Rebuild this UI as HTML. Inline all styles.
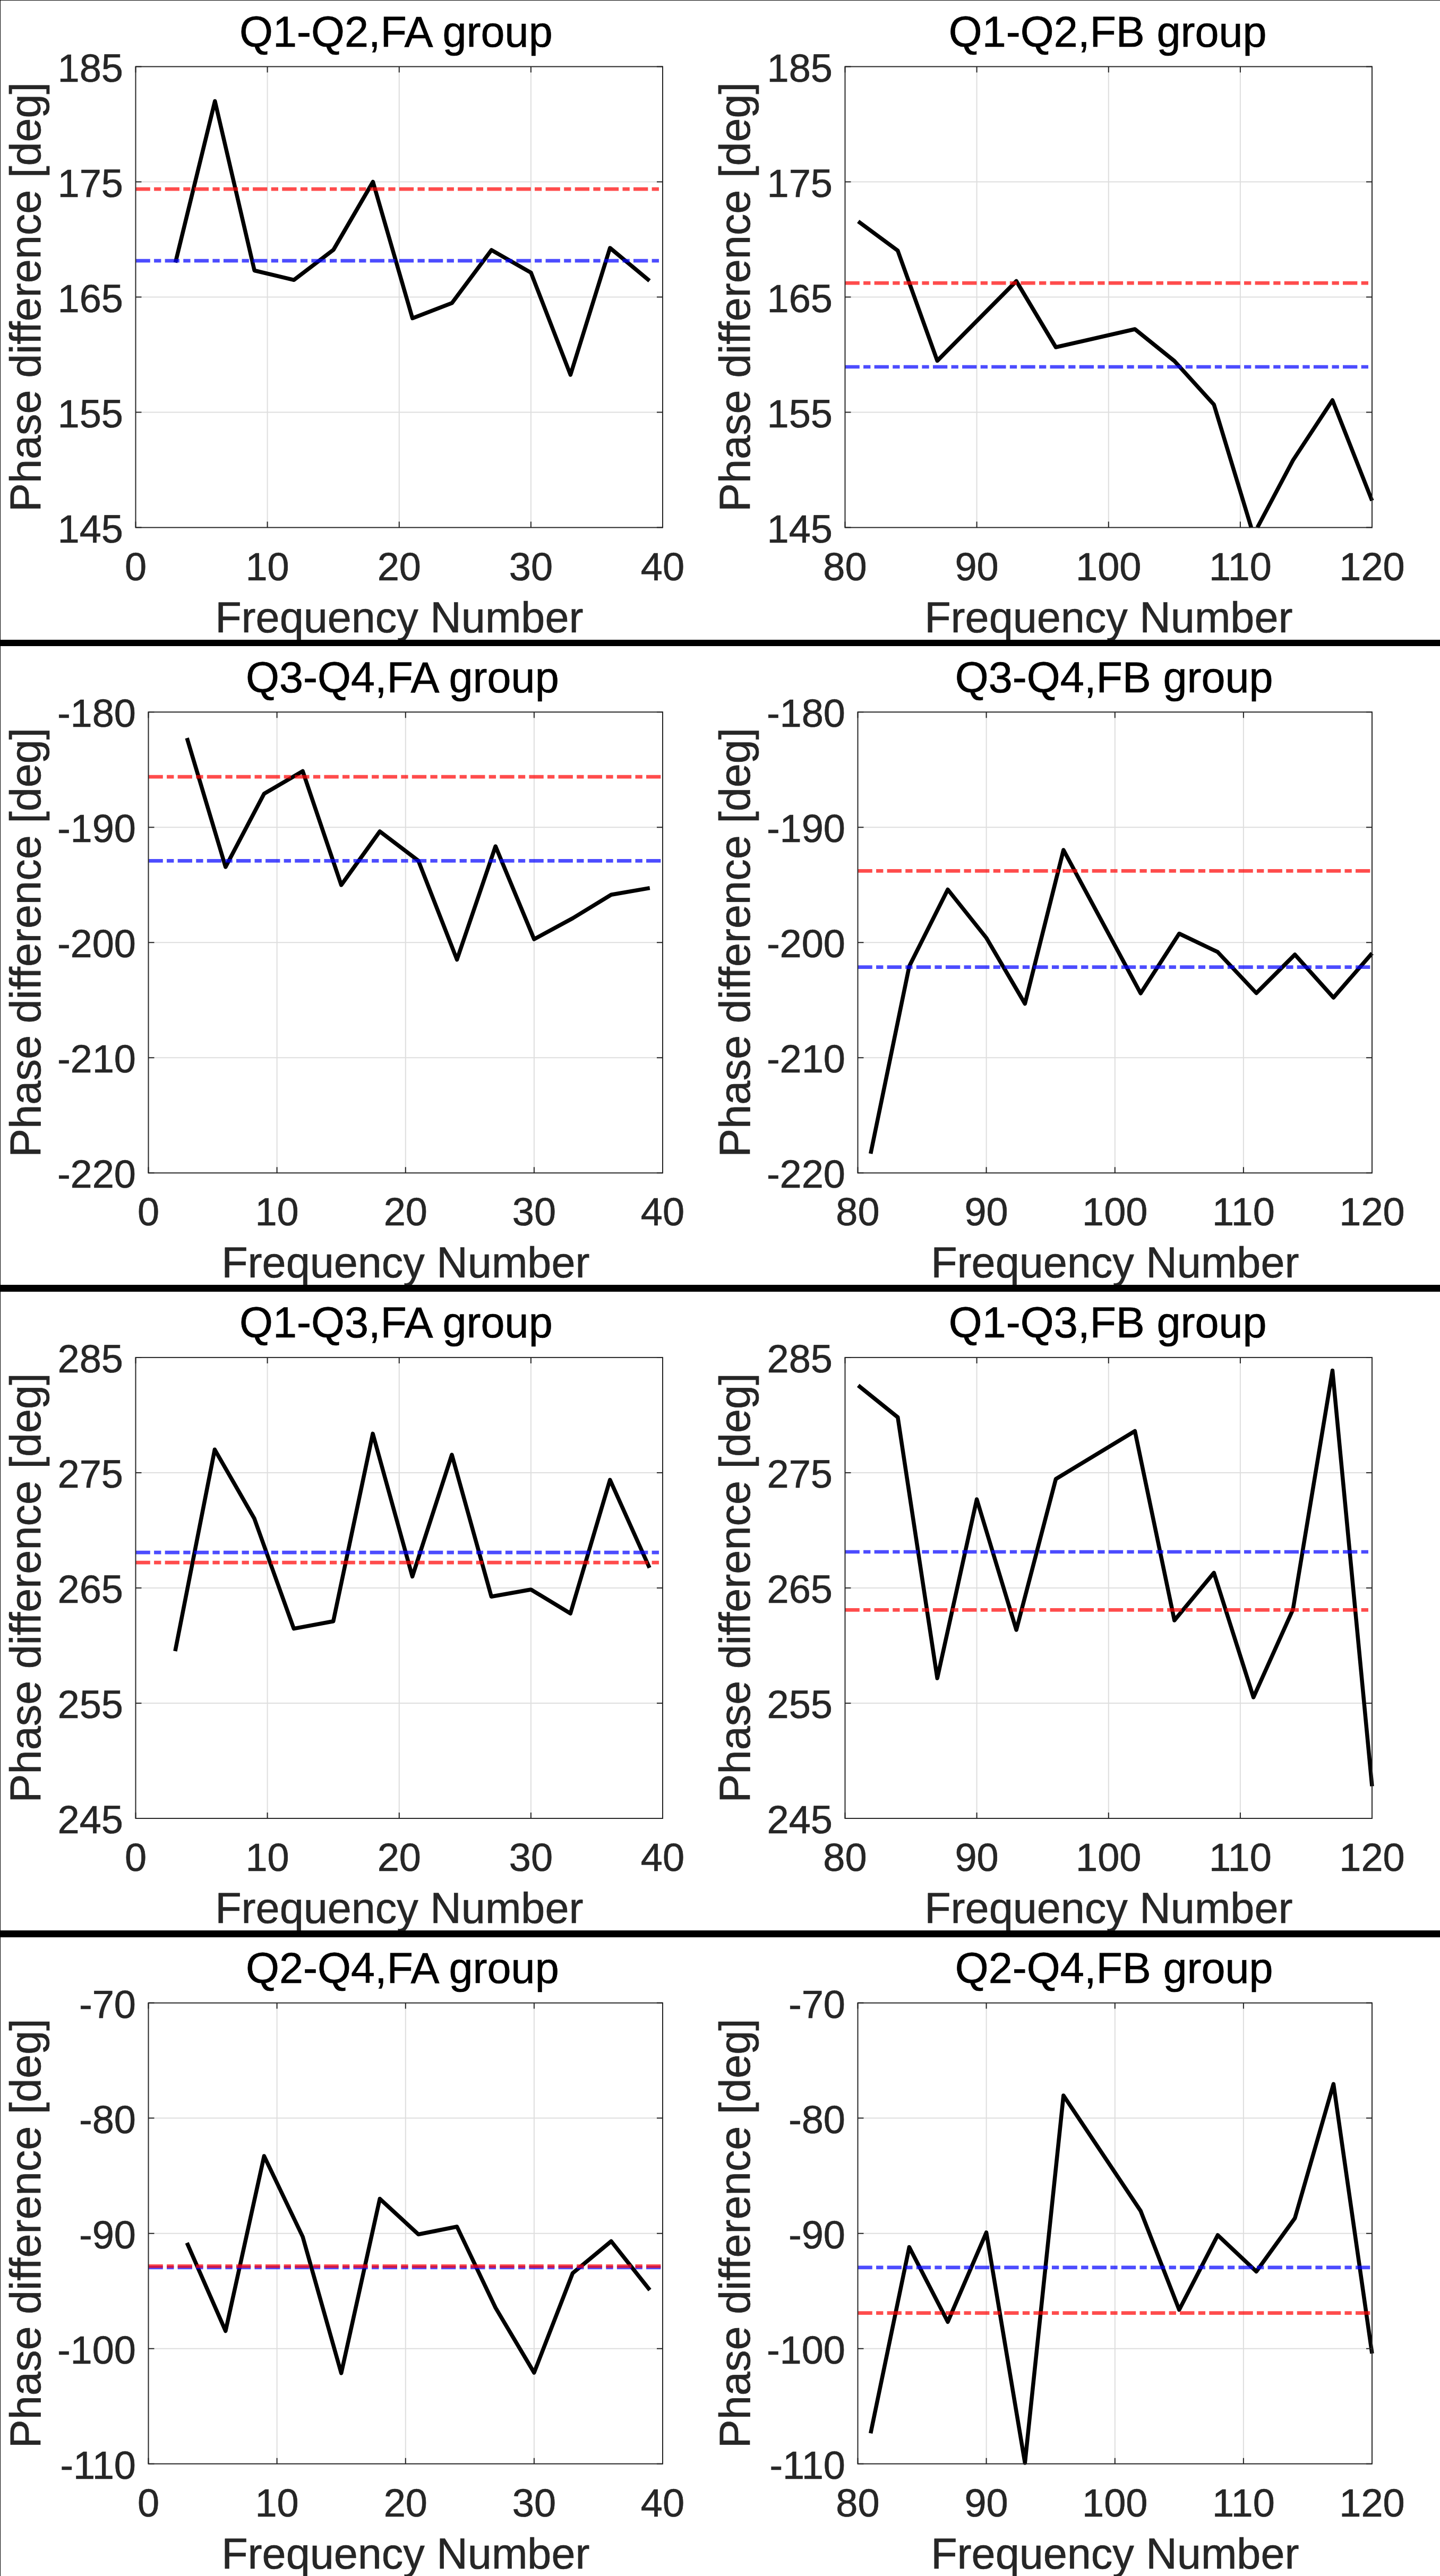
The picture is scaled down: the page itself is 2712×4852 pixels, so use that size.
<!DOCTYPE html>
<html><head><meta charset="utf-8"><title>Phase difference</title>
<style>
html,body{margin:0;padding:0;background:#fff;}
body{width:2712px;height:4852px;overflow:hidden;font-family:"Liberation Sans", sans-serif;}
svg{display:block;}
text{font-family:"Liberation Sans", sans-serif;font-kerning:normal;}
.t{font-size:74px;fill:#262626;stroke:#262626;stroke-width:0.7px;}
.l{font-size:81px;fill:#262626;stroke:#262626;stroke-width:0.7px;}
.h{font-size:81px;fill:#000;stroke:#000;stroke-width:0.7px;}
</style></head><body>
<svg width="2712" height="4852" viewBox="0 0 2712 4852">
<rect x="0" y="0" width="2712" height="4852" fill="#fff"/>
<g>
<path d="M503.6 125.5V993.6M751.8 125.5V993.6M999.9 125.5V993.6M255.5 776.6H1248M255.5 559.5H1248M255.5 342.5H1248" stroke="#dedede" stroke-width="2" fill="none"/>
<path d="M330.4 494.5L404.8 190.5L479.2 509.5L553.6 527.3L628 470.5L702.4 342.5L776.8 599.5L851.2 570.7L925.6 471L1000 513.6L1074.4 706L1148.8 467L1223.2 528.8" stroke="#000" stroke-width="7.5" fill="none" stroke-linejoin="round" stroke-linecap="butt"/>
<path d="M255.5 491.2H1248" stroke="#0000ff" stroke-opacity="0.7" stroke-width="6.7" stroke-dasharray="27.3 7.3 13.3 7.25" fill="none"/>
<path d="M255.5 356.2H1248" stroke="#ff0000" stroke-opacity="0.7" stroke-width="6.7" stroke-dasharray="27.3 7.3 13.3 7.25" fill="none"/>
<path d="M255.5 125.5v11M255.5 993.6v-11M503.6 125.5v11M503.6 993.6v-11M751.8 125.5v11M751.8 993.6v-11M999.9 125.5v11M999.9 993.6v-11M1248 125.5v11M1248 993.6v-11M255.5 993.6h11M1248 993.6h-11M255.5 776.6h11M1248 776.6h-11M255.5 559.5h11M1248 559.5h-11M255.5 342.5h11M1248 342.5h-11M255.5 125.5h11M1248 125.5h-11" stroke="#262626" stroke-width="2" fill="none"/>
<rect x="255.5" y="125.5" width="992.5" height="868.1" stroke="#262626" stroke-width="2" fill="none"/>
<text class="t" x="255.5" y="1092.6" text-anchor="middle">0</text>
<text class="t" x="503.6" y="1092.6" text-anchor="middle">10</text>
<text class="t" x="751.8" y="1092.6" text-anchor="middle">20</text>
<text class="t" x="999.9" y="1092.6" text-anchor="middle">30</text>
<text class="t" x="1248" y="1092.6" text-anchor="middle">40</text>
<text class="t" x="232" y="1021.6" text-anchor="end">145</text>
<text class="t" x="232" y="804.6" text-anchor="end">155</text>
<text class="t" x="232" y="587.5" text-anchor="end">165</text>
<text class="t" x="232" y="370.5" text-anchor="end">175</text>
<text class="t" x="232" y="153.5" text-anchor="end">185</text>
<text class="h" x="745.8" y="88" text-anchor="middle">Q1-Q2,FA group</text>
<text class="l" x="751.8" y="1190.5" text-anchor="middle">Frequency Number</text>
<text class="l" transform="translate(75.8 559.5) rotate(-90)" text-anchor="middle">Phase difference [deg]</text>
</g>
<g>
<path d="M1839.6 125.5V993.6M2087.8 125.5V993.6M2335.9 125.5V993.6M1591.5 776.6H2584M1591.5 559.5H2584M1591.5 342.5H2584" stroke="#dedede" stroke-width="2" fill="none"/>
<path d="M1616.3 417L1690.7 472L1765.2 679.5L1914.1 529.5L1988.5 654L2137.4 620L2211.8 680L2286.2 762L2356.5 993.6M2368.1 993.6L2435.1 867L2509.5 753.8L2584 943" stroke="#000" stroke-width="7.5" fill="none" stroke-linejoin="round" stroke-linecap="butt"/>
<path d="M1591.5 691H2584" stroke="#0000ff" stroke-opacity="0.7" stroke-width="6.7" stroke-dasharray="27.3 7.3 13.3 7.25" fill="none"/>
<path d="M1591.5 533.1H2584" stroke="#ff0000" stroke-opacity="0.7" stroke-width="6.7" stroke-dasharray="27.3 7.3 13.3 7.25" fill="none"/>
<path d="M1591.5 125.5v11M1591.5 993.6v-11M1839.6 125.5v11M1839.6 993.6v-11M2087.8 125.5v11M2087.8 993.6v-11M2335.9 125.5v11M2335.9 993.6v-11M2584 125.5v11M2584 993.6v-11M1591.5 993.6h11M2584 993.6h-11M1591.5 776.6h11M2584 776.6h-11M1591.5 559.5h11M2584 559.5h-11M1591.5 342.5h11M2584 342.5h-11M1591.5 125.5h11M2584 125.5h-11" stroke="#262626" stroke-width="2" fill="none"/>
<rect x="1591.5" y="125.5" width="992.5" height="868.1" stroke="#262626" stroke-width="2" fill="none"/>
<text class="t" x="1591.5" y="1092.6" text-anchor="middle">80</text>
<text class="t" x="1839.6" y="1092.6" text-anchor="middle">90</text>
<text class="t" x="2087.8" y="1092.6" text-anchor="middle">100</text>
<text class="t" x="2335.9" y="1092.6" text-anchor="middle">110</text>
<text class="t" x="2584" y="1092.6" text-anchor="middle">120</text>
<text class="t" x="1568" y="1021.6" text-anchor="end">145</text>
<text class="t" x="1568" y="804.6" text-anchor="end">155</text>
<text class="t" x="1568" y="587.5" text-anchor="end">165</text>
<text class="t" x="1568" y="370.5" text-anchor="end">175</text>
<text class="t" x="1568" y="153.5" text-anchor="end">185</text>
<text class="h" x="2086.2" y="88" text-anchor="middle">Q1-Q2,FB group</text>
<text class="l" x="2087.8" y="1190.5" text-anchor="middle">Frequency Number</text>
<text class="l" transform="translate(1411.8 559.5) rotate(-90)" text-anchor="middle">Phase difference [deg]</text>
</g>
<g>
<path d="M521.6 1341.2V2209.3M763.8 1341.2V2209.3M1005.9 1341.2V2209.3M279.5 1992.3H1248M279.5 1775.2H1248M279.5 1558.2H1248" stroke="#dedede" stroke-width="2" fill="none"/>
<path d="M352.1 1390.2L424.8 1633L497.4 1495L570.1 1452.5L642.7 1667L715.3 1566L788 1621.3L860.6 1807.5L933.2 1594L1005.9 1769L1078.5 1729.6L1151.1 1685.2L1223.8 1672.6" stroke="#000" stroke-width="7.5" fill="none" stroke-linejoin="round" stroke-linecap="butt"/>
<path d="M279.5 1621.3H1248" stroke="#0000ff" stroke-opacity="0.7" stroke-width="6.7" stroke-dasharray="27.3 7.3 13.3 7.25" fill="none"/>
<path d="M279.5 1463.1H1248" stroke="#ff0000" stroke-opacity="0.7" stroke-width="6.7" stroke-dasharray="27.3 7.3 13.3 7.25" fill="none"/>
<path d="M279.5 1341.2v11M279.5 2209.3v-11M521.6 1341.2v11M521.6 2209.3v-11M763.8 1341.2v11M763.8 2209.3v-11M1005.9 1341.2v11M1005.9 2209.3v-11M1248 1341.2v11M1248 2209.3v-11M279.5 2209.3h11M1248 2209.3h-11M279.5 1992.3h11M1248 1992.3h-11M279.5 1775.2h11M1248 1775.2h-11M279.5 1558.2h11M1248 1558.2h-11M279.5 1341.2h11M1248 1341.2h-11" stroke="#262626" stroke-width="2" fill="none"/>
<rect x="279.5" y="1341.2" width="968.5" height="868.1" stroke="#262626" stroke-width="2" fill="none"/>
<text class="t" x="279.5" y="2308.3" text-anchor="middle">0</text>
<text class="t" x="521.6" y="2308.3" text-anchor="middle">10</text>
<text class="t" x="763.8" y="2308.3" text-anchor="middle">20</text>
<text class="t" x="1005.9" y="2308.3" text-anchor="middle">30</text>
<text class="t" x="1248" y="2308.3" text-anchor="middle">40</text>
<text class="t" x="256" y="2237.3" text-anchor="end">-220</text>
<text class="t" x="256" y="2020.3" text-anchor="end">-210</text>
<text class="t" x="256" y="1803.2" text-anchor="end">-200</text>
<text class="t" x="256" y="1586.2" text-anchor="end">-190</text>
<text class="t" x="256" y="1369.2" text-anchor="end">-180</text>
<text class="h" x="757.8" y="1303.7" text-anchor="middle">Q3-Q4,FA group</text>
<text class="l" x="763.8" y="2406.2" text-anchor="middle">Frequency Number</text>
<text class="l" transform="translate(75.8 1775.2) rotate(-90)" text-anchor="middle">Phase difference [deg]</text>
</g>
<g>
<path d="M1857.6 1341.2V2209.3M2099.8 1341.2V2209.3M2341.9 1341.2V2209.3M1615.5 1992.3H2584M1615.5 1775.2H2584M1615.5 1558.2H2584" stroke="#dedede" stroke-width="2" fill="none"/>
<path d="M1639.7 2173.1L1712.4 1820L1785 1675.5L1857.6 1766.5L1930.3 1890.5L2002.9 1601L2148.2 1871L2220.8 1758.5L2293.4 1793.2L2366.1 1870.5L2438.7 1798L2511.4 1879L2584 1795.5" stroke="#000" stroke-width="7.5" fill="none" stroke-linejoin="round" stroke-linecap="butt"/>
<path d="M1615.5 1821.7H2584" stroke="#0000ff" stroke-opacity="0.7" stroke-width="6.7" stroke-dasharray="27.3 7.3 13.3 7.25" fill="none"/>
<path d="M1615.5 1640.4H2584" stroke="#ff0000" stroke-opacity="0.7" stroke-width="6.7" stroke-dasharray="27.3 7.3 13.3 7.25" fill="none"/>
<path d="M1615.5 1341.2v11M1615.5 2209.3v-11M1857.6 1341.2v11M1857.6 2209.3v-11M2099.8 1341.2v11M2099.8 2209.3v-11M2341.9 1341.2v11M2341.9 2209.3v-11M2584 1341.2v11M2584 2209.3v-11M1615.5 2209.3h11M2584 2209.3h-11M1615.5 1992.3h11M2584 1992.3h-11M1615.5 1775.2h11M2584 1775.2h-11M1615.5 1558.2h11M2584 1558.2h-11M1615.5 1341.2h11M2584 1341.2h-11" stroke="#262626" stroke-width="2" fill="none"/>
<rect x="1615.5" y="1341.2" width="968.5" height="868.1" stroke="#262626" stroke-width="2" fill="none"/>
<text class="t" x="1615.5" y="2308.3" text-anchor="middle">80</text>
<text class="t" x="1857.6" y="2308.3" text-anchor="middle">90</text>
<text class="t" x="2099.8" y="2308.3" text-anchor="middle">100</text>
<text class="t" x="2341.9" y="2308.3" text-anchor="middle">110</text>
<text class="t" x="2584" y="2308.3" text-anchor="middle">120</text>
<text class="t" x="1592" y="2237.3" text-anchor="end">-220</text>
<text class="t" x="1592" y="2020.3" text-anchor="end">-210</text>
<text class="t" x="1592" y="1803.2" text-anchor="end">-200</text>
<text class="t" x="1592" y="1586.2" text-anchor="end">-190</text>
<text class="t" x="1592" y="1369.2" text-anchor="end">-180</text>
<text class="h" x="2098.2" y="1303.7" text-anchor="middle">Q3-Q4,FB group</text>
<text class="l" x="2099.8" y="2406.2" text-anchor="middle">Frequency Number</text>
<text class="l" transform="translate(1411.8 1775.2) rotate(-90)" text-anchor="middle">Phase difference [deg]</text>
</g>
<g>
<path d="M503.6 2556.9V3425M751.8 2556.9V3425M999.9 2556.9V3425M255.5 3208H1248M255.5 2990.9H1248M255.5 2773.9H1248" stroke="#dedede" stroke-width="2" fill="none"/>
<path d="M329.9 3110L404.4 2730.3L478.8 2859.8L553.3 3067.6L627.7 3053.7L702.1 2700.3L776.6 2969.5L851 2740L925.4 3007.3L999.9 2994L1074.3 3039L1148.8 2787.3L1223.2 2953" stroke="#000" stroke-width="7.5" fill="none" stroke-linejoin="round" stroke-linecap="butt"/>
<path d="M255.5 2924.1H1248" stroke="#0000ff" stroke-opacity="0.7" stroke-width="6.7" stroke-dasharray="27.3 7.3 13.3 7.25" fill="none"/>
<path d="M255.5 2943.2H1248" stroke="#ff0000" stroke-opacity="0.7" stroke-width="6.7" stroke-dasharray="27.3 7.3 13.3 7.25" fill="none"/>
<path d="M255.5 2556.9v11M255.5 3425v-11M503.6 2556.9v11M503.6 3425v-11M751.8 2556.9v11M751.8 3425v-11M999.9 2556.9v11M999.9 3425v-11M1248 2556.9v11M1248 3425v-11M255.5 3425h11M1248 3425h-11M255.5 3208h11M1248 3208h-11M255.5 2990.9h11M1248 2990.9h-11M255.5 2773.9h11M1248 2773.9h-11M255.5 2556.9h11M1248 2556.9h-11" stroke="#262626" stroke-width="2" fill="none"/>
<rect x="255.5" y="2556.9" width="992.5" height="868.1" stroke="#262626" stroke-width="2" fill="none"/>
<text class="t" x="255.5" y="3524" text-anchor="middle">0</text>
<text class="t" x="503.6" y="3524" text-anchor="middle">10</text>
<text class="t" x="751.8" y="3524" text-anchor="middle">20</text>
<text class="t" x="999.9" y="3524" text-anchor="middle">30</text>
<text class="t" x="1248" y="3524" text-anchor="middle">40</text>
<text class="t" x="232" y="3453" text-anchor="end">245</text>
<text class="t" x="232" y="3236" text-anchor="end">255</text>
<text class="t" x="232" y="3018.9" text-anchor="end">265</text>
<text class="t" x="232" y="2801.9" text-anchor="end">275</text>
<text class="t" x="232" y="2584.9" text-anchor="end">285</text>
<text class="h" x="745.8" y="2519.4" text-anchor="middle">Q1-Q3,FA group</text>
<text class="l" x="751.8" y="3621.9" text-anchor="middle">Frequency Number</text>
<text class="l" transform="translate(75.8 2990.9) rotate(-90)" text-anchor="middle">Phase difference [deg]</text>
</g>
<g>
<path d="M1839.6 2556.9V3425M2087.8 2556.9V3425M2335.9 2556.9V3425M1591.5 3208H2584M1591.5 2990.9H2584M1591.5 2773.9H2584" stroke="#dedede" stroke-width="2" fill="none"/>
<path d="M1616.3 2609.5L1690.8 2669.5L1765.2 3161L1839.6 2824L1914.1 3070L1988.5 2785.7L2137.4 2695.5L2211.8 3052L2286.2 2962.5L2360.7 3197L2435.1 3031.5L2509.5 2581.5L2584 3364.5" stroke="#000" stroke-width="7.5" fill="none" stroke-linejoin="round" stroke-linecap="butt"/>
<path d="M1591.5 2923H2584" stroke="#0000ff" stroke-opacity="0.7" stroke-width="6.7" stroke-dasharray="27.3 7.3 13.3 7.25" fill="none"/>
<path d="M1591.5 3032.4H2584" stroke="#ff0000" stroke-opacity="0.7" stroke-width="6.7" stroke-dasharray="27.3 7.3 13.3 7.25" fill="none"/>
<path d="M1591.5 2556.9v11M1591.5 3425v-11M1839.6 2556.9v11M1839.6 3425v-11M2087.8 2556.9v11M2087.8 3425v-11M2335.9 2556.9v11M2335.9 3425v-11M2584 2556.9v11M2584 3425v-11M1591.5 3425h11M2584 3425h-11M1591.5 3208h11M2584 3208h-11M1591.5 2990.9h11M2584 2990.9h-11M1591.5 2773.9h11M2584 2773.9h-11M1591.5 2556.9h11M2584 2556.9h-11" stroke="#262626" stroke-width="2" fill="none"/>
<rect x="1591.5" y="2556.9" width="992.5" height="868.1" stroke="#262626" stroke-width="2" fill="none"/>
<text class="t" x="1591.5" y="3524" text-anchor="middle">80</text>
<text class="t" x="1839.6" y="3524" text-anchor="middle">90</text>
<text class="t" x="2087.8" y="3524" text-anchor="middle">100</text>
<text class="t" x="2335.9" y="3524" text-anchor="middle">110</text>
<text class="t" x="2584" y="3524" text-anchor="middle">120</text>
<text class="t" x="1568" y="3453" text-anchor="end">245</text>
<text class="t" x="1568" y="3236" text-anchor="end">255</text>
<text class="t" x="1568" y="3018.9" text-anchor="end">265</text>
<text class="t" x="1568" y="2801.9" text-anchor="end">275</text>
<text class="t" x="1568" y="2584.9" text-anchor="end">285</text>
<text class="h" x="2086.2" y="2519.4" text-anchor="middle">Q1-Q3,FB group</text>
<text class="l" x="2087.8" y="3621.9" text-anchor="middle">Frequency Number</text>
<text class="l" transform="translate(1411.8 2990.9) rotate(-90)" text-anchor="middle">Phase difference [deg]</text>
</g>
<g>
<path d="M521.6 3772.6V4640.7M763.8 3772.6V4640.7M1005.9 3772.6V4640.7M279.5 4423.7H1248M279.5 4206.7H1248M279.5 3989.6H1248" stroke="#dedede" stroke-width="2" fill="none"/>
<path d="M352.1 4224.6L424.8 4390.5L497.4 4061L570.1 4213L642.7 4470L715.3 4141.5L788 4208.5L860.6 4194L933.2 4346.6L1005.9 4469L1078.5 4281.6L1151.1 4221.5L1223.8 4313.4" stroke="#000" stroke-width="7.5" fill="none" stroke-linejoin="round" stroke-linecap="butt"/>
<path d="M279.5 4271H1248" stroke="#0000ff" stroke-opacity="0.7" stroke-width="6.7" stroke-dasharray="27.3 7.3 13.3 7.25" fill="none"/>
<path d="M279.5 4268.3H1248" stroke="#ff0000" stroke-opacity="0.7" stroke-width="6.7" stroke-dasharray="27.3 7.3 13.3 7.25" fill="none"/>
<path d="M279.5 3772.6v11M279.5 4640.7v-11M521.6 3772.6v11M521.6 4640.7v-11M763.8 3772.6v11M763.8 4640.7v-11M1005.9 3772.6v11M1005.9 4640.7v-11M1248 3772.6v11M1248 4640.7v-11M279.5 4640.7h11M1248 4640.7h-11M279.5 4423.7h11M1248 4423.7h-11M279.5 4206.7h11M1248 4206.7h-11M279.5 3989.6h11M1248 3989.6h-11M279.5 3772.6h11M1248 3772.6h-11" stroke="#262626" stroke-width="2" fill="none"/>
<rect x="279.5" y="3772.6" width="968.5" height="868.1" stroke="#262626" stroke-width="2" fill="none"/>
<text class="t" x="279.5" y="4739.7" text-anchor="middle">0</text>
<text class="t" x="521.6" y="4739.7" text-anchor="middle">10</text>
<text class="t" x="763.8" y="4739.7" text-anchor="middle">20</text>
<text class="t" x="1005.9" y="4739.7" text-anchor="middle">30</text>
<text class="t" x="1248" y="4739.7" text-anchor="middle">40</text>
<text class="t" x="256" y="4668.7" text-anchor="end">-110</text>
<text class="t" x="256" y="4451.7" text-anchor="end">-100</text>
<text class="t" x="256" y="4234.7" text-anchor="end">-90</text>
<text class="t" x="256" y="4017.6" text-anchor="end">-80</text>
<text class="t" x="256" y="3800.6" text-anchor="end">-70</text>
<text class="h" x="757.8" y="3735.1" text-anchor="middle">Q2-Q4,FA group</text>
<text class="l" x="763.8" y="4837.6" text-anchor="middle">Frequency Number</text>
<text class="l" transform="translate(75.8 4206.7) rotate(-90)" text-anchor="middle">Phase difference [deg]</text>
</g>
<g>
<path d="M1857.6 3772.6V4640.7M2099.8 3772.6V4640.7M2341.9 3772.6V4640.7M1615.5 4423.7H2584M1615.5 4206.7H2584M1615.5 3989.6H2584" stroke="#dedede" stroke-width="2" fill="none"/>
<path d="M1639.7 4583.2L1712.4 4232.5L1785 4373.3L1857.6 4205L1930.3 4639L2002.9 3947L2148.2 4164.3L2220.8 4350.6L2293.4 4210L2366.1 4278.5L2438.7 4178L2511.4 3925.3L2584 4433" stroke="#000" stroke-width="7.5" fill="none" stroke-linejoin="round" stroke-linecap="butt"/>
<path d="M1615.5 4270.8H2584" stroke="#0000ff" stroke-opacity="0.7" stroke-width="6.7" stroke-dasharray="27.3 7.3 13.3 7.25" fill="none"/>
<path d="M1615.5 4356.7H2584" stroke="#ff0000" stroke-opacity="0.7" stroke-width="6.7" stroke-dasharray="27.3 7.3 13.3 7.25" fill="none"/>
<path d="M1615.5 3772.6v11M1615.5 4640.7v-11M1857.6 3772.6v11M1857.6 4640.7v-11M2099.8 3772.6v11M2099.8 4640.7v-11M2341.9 3772.6v11M2341.9 4640.7v-11M2584 3772.6v11M2584 4640.7v-11M1615.5 4640.7h11M2584 4640.7h-11M1615.5 4423.7h11M2584 4423.7h-11M1615.5 4206.7h11M2584 4206.7h-11M1615.5 3989.6h11M2584 3989.6h-11M1615.5 3772.6h11M2584 3772.6h-11" stroke="#262626" stroke-width="2" fill="none"/>
<rect x="1615.5" y="3772.6" width="968.5" height="868.1" stroke="#262626" stroke-width="2" fill="none"/>
<text class="t" x="1615.5" y="4739.7" text-anchor="middle">80</text>
<text class="t" x="1857.6" y="4739.7" text-anchor="middle">90</text>
<text class="t" x="2099.8" y="4739.7" text-anchor="middle">100</text>
<text class="t" x="2341.9" y="4739.7" text-anchor="middle">110</text>
<text class="t" x="2584" y="4739.7" text-anchor="middle">120</text>
<text class="t" x="1592" y="4668.7" text-anchor="end">-110</text>
<text class="t" x="1592" y="4451.7" text-anchor="end">-100</text>
<text class="t" x="1592" y="4234.7" text-anchor="end">-90</text>
<text class="t" x="1592" y="4017.6" text-anchor="end">-80</text>
<text class="t" x="1592" y="3800.6" text-anchor="end">-70</text>
<text class="h" x="2098.2" y="3735.1" text-anchor="middle">Q2-Q4,FB group</text>
<text class="l" x="2099.8" y="4837.6" text-anchor="middle">Frequency Number</text>
<text class="l" transform="translate(1411.8 4206.7) rotate(-90)" text-anchor="middle">Phase difference [deg]</text>
</g>
<rect x="0" y="1205" width="2712" height="12" fill="#000"/>
<rect x="0" y="2420" width="2712" height="13" fill="#000"/>
<rect x="0" y="3636" width="2712" height="13" fill="#000"/>
<rect x="0" y="0" width="2712" height="1" fill="#000"/>
<rect x="0" y="0" width="1" height="4852" fill="#000"/>
</svg>
</body></html>
